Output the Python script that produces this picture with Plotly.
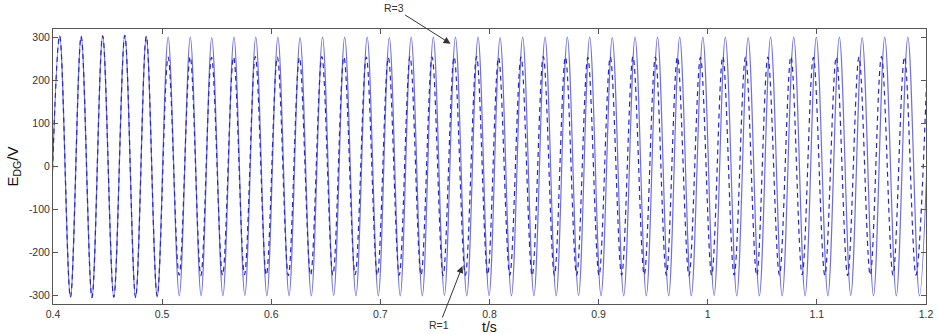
import plotly.graph_objects as go

# ---- data (extremum times in s, values in V) ----
r3_peak_t = [0.4061, 0.4258, 0.4455, 0.4658, 0.4855, 0.5055, 0.5258, 0.5455, 0.5658, 0.5858,
             0.6061, 0.6264, 0.6470, 0.6673, 0.6879, 0.7082, 0.7282, 0.7485, 0.7688, 0.7895,
             0.8097, 0.8304, 0.8509, 0.8713, 0.8918, 0.9125, 0.9334, 0.9540, 0.9743, 0.9955,
             1.0161, 1.0370, 1.0576, 1.0788, 1.0995, 1.1206, 1.1415, 1.1622, 1.1834, 1.2046]
r3_peak_v = [303, 302, 303, 304, 302, 300, 300, 299, 300, 300,
             300, 299, 300, 300, 300, 299, 300, 300, 300, 300,
             299, 300, 300, 300, 300, 299, 300, 300, 300, 300,
             300, 299, 300, 300, 300, 300, 299, 300, 300, 300]
r3_trough_t = [0.3961, 0.4160, 0.4357, 0.4557, 0.4757, 0.4955, 0.5157, 0.5357, 0.5557, 0.5758,
               0.5960, 0.6163, 0.6367, 0.6572, 0.6776, 0.6981, 0.7182, 0.7384, 0.7587, 0.7792,
               0.7996, 0.8201, 0.8407, 0.8611, 0.8816, 0.9022, 0.9230, 0.9437, 0.9642, 0.9849,
               1.0058, 1.0266, 1.0473, 1.0682, 1.0892, 1.1101, 1.1311, 1.1519, 1.1728, 1.1940]
r3_trough_v = [-300, -303, -304, -303, -304, -303, -300, -300, -300, -299,
               -300, -300, -300, -299, -300, -300, -300, -300, -299, -300,
               -300, -300, -300, -300, -299, -300, -300, -300, -300, -300,
               -299, -300, -300, -300, -300, -300, -299, -300, -300, -300]

r1_peak_t = [0.4061, 0.4258, 0.4455, 0.4658, 0.4855, 0.5055, 0.5257, 0.5453, 0.5655, 0.5854,
             0.6056, 0.6258, 0.6464, 0.6666, 0.6871, 0.7073, 0.7272, 0.7474, 0.7676, 0.7882,
             0.8083, 0.8289, 0.8493, 0.8696, 0.8901, 0.9107, 0.9315, 0.9520, 0.9722, 0.9933,
             1.0138, 1.0346, 1.0551, 1.0762, 1.0968, 1.1178, 1.1386, 1.1592, 1.1803, 1.2013]
r1_peak_v = [303, 302, 303, 304, 302, 254, 255, 253, 254, 255,
             254, 253, 255, 254, 254, 253, 255, 254, 254, 255,
             253, 254, 255, 254, 253, 254, 255, 254, 254, 253,
             255, 254, 254, 255, 253, 254, 254, 255, 254, 254]
r1_trough_t = [0.3961, 0.4160, 0.4357, 0.4557, 0.4757, 0.4955, 0.5156, 0.5355, 0.5554, 0.5755,
               0.5955, 0.6157, 0.6361, 0.6565, 0.6769, 0.6972, 0.7173, 0.7373, 0.7575, 0.7779,
               0.7983, 0.8186, 0.8391, 0.8595, 0.8799, 0.9004, 0.9211, 0.9418, 0.9621, 0.9828,
               1.0036, 1.0242, 1.0449, 1.0657, 1.0865, 1.1073, 1.1282, 1.1489, 1.1698, 1.1908]
r1_trough_v = [-300, -303, -304, -303, -304, -300, -252, -253, -252, -251,
               -252, -253, -252, -252, -251, -253, -252, -252, -253, -252,
               -251, -252, -253, -252, -252, -253, -252, -251, -252, -253,
               -252, -252, -253, -252, -251, -252, -253, -252, -252, -252]

x_tick_vals = [0.4, 0.5, 0.6, 0.7, 0.8, 0.9, 1.0, 1.1, 1.2]
x_tick_text = ["0.4", "0.5", "0.6", "0.7", "0.8", "0.9", "1", "1.1", "1.2"]
y_tick_vals = [-300, -200, -100, 0, 100, 200, 300]
y_tick_text = ["-300", "-200", "-100", "0", "100", "200", "300"]


def merge(pt, pv, tt, tv):
    pts = sorted(list(zip(pt, pv)) + list(zip(tt, tv)))
    return [p[0] for p in pts], [p[1] for p in pts]


r3_t, r3_v = merge(r3_peak_t, r3_peak_v, r3_trough_t, r3_trough_v)
r1_t, r1_v = merge(r1_peak_t, r1_peak_v, r1_trough_t, r1_trough_v)

fig = go.Figure()
fig.add_trace(go.Scatter(x=r3_t, y=r3_v, mode="lines", name="R=3",
                         line=dict(color="#6e6ee0", width=1.2, shape="spline", smoothing=1.0)))
fig.add_trace(go.Scatter(x=r1_t, y=r1_v, mode="lines", name="R=1",
                         line=dict(color="#2626cc", width=1.2, shape="spline", smoothing=1.0,
                                   dash="5px,4px")))

font = "Arial, Liberation Sans, sans-serif"
axis_common = dict(showline=True, linecolor="#555555", linewidth=1, mirror="ticks",
                   ticks="inside", ticklen=5, tickcolor="#555555", showgrid=False,
                   zeroline=False, ticklabeloverflow="allow",
                   tickfont=dict(family=font, size=10.5, color="#333333"))

fig.update_layout(
    width=938, height=334,
    margin=dict(l=53, r=5, t=29, b=30),
    paper_bgcolor="white", plot_bgcolor="white",
    showlegend=False,
    xaxis=dict(range=[0.4, 1.2], tickvals=x_tick_vals, ticktext=x_tick_text, **axis_common),
    yaxis=dict(range=[-319, 319], tickvals=y_tick_vals, ticktext=y_tick_text, **axis_common),
)

fig.add_annotation(text="t/s", xref="paper", yref="paper", x=0.5, y=0, yanchor="top",
                   yshift=-13, showarrow=False, font=dict(family=font, size=14, color="#111111"))
fig.add_annotation(text="E<sub>DG</sub>/V", xref="paper", yref="paper", x=0, y=0.5,
                   xanchor="center", yanchor="middle", xshift=-40, textangle=-90,
                   showarrow=False, font=dict(family=font, size=15, color="#111111"))

fig.add_annotation(text="R=3", x=0.7643, y=285, xref="x", yref="y", showarrow=True,
                   ax=-57, ay=-36, arrowhead=2, arrowsize=1.4, arrowwidth=1,
                   arrowcolor="#333333", font=dict(family=font, size=10.5, color="#333333"))
fig.add_annotation(text="R=1", x=0.7752, y=-231, xref="x", yref="y", showarrow=True,
                   ax=-23, ay=59, arrowhead=2, arrowsize=1.4, arrowwidth=1,
                   arrowcolor="#333333", font=dict(family=font, size=10.5, color="#333333"))

fig.write_html("out.html", config={"displayModeBar": False},
               post_script="document.body.style.margin='0px';document.body.style.overflow='hidden';")
